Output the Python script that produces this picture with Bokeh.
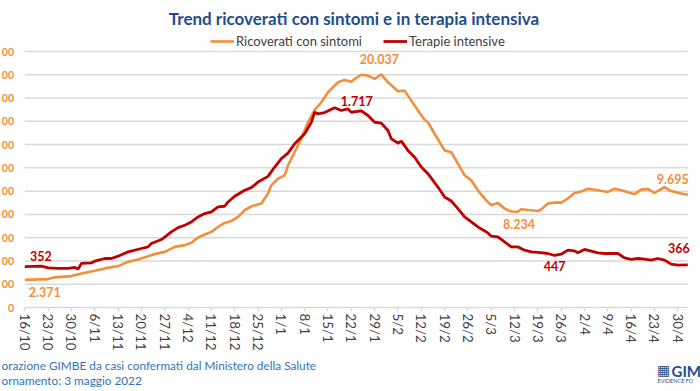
from bokeh.plotting import figure
from bokeh.models import (Range1d, LinearAxis, FixedTicker, Grid, Label,
                          Legend, LegendItem)
from bokeh.embed import file_html
from bokeh.resources import INLINE

# ---------------- data (day 0 = 16/10/2021) ----------------
tick_days = list(range(0, 197, 7))
tick_labels = ["16/10", "23/10", "30/10", "6/11", "13/11", "20/11", "27/11",
               "4/12", "11/12", "18/12", "25/12", "1/1", "8/1", "15/1", "22/1",
               "29/1", "5/2", "12/2", "19/2", "26/2", "5/3", "12/3", "19/3",
               "26/3", "2/4", "9/4", "16/4", "23/4", "30/4"]

# left-axis ticks; only the last digits of the labels are visible in the reference
y_ticks = list(range(0, 22001, 2000))
y_tick_labels = ["0", "00", "00", "00", "00", "00", "00",
                 "00", "00", "00", "00", "00"]

ric_days = [0, 7, 9, 14, 17, 21, 24, 28, 31, 34, 37, 39, 42, 45, 48, 50, 52, 54,
            56, 58, 60, 62, 64, 66, 68, 71, 73, 74, 76, 78, 79, 81, 83, 85, 87,
            89, 91, 94, 96, 98, 99, 101, 103, 105, 107, 109, 112, 114, 116, 118,
            120, 121, 123, 126, 128, 130, 132, 134, 136, 138, 140, 142, 144, 146,
            148, 149, 151, 154, 155, 157, 159, 161, 163, 165, 167, 169, 172, 175,
            177, 179, 183, 185, 187, 189, 192, 194, 197, 199]
ric_vals = [2371, 2440, 2590, 2700, 2930, 3150, 3360, 3560, 3920, 4130, 4410,
            4590, 4780, 5210, 5360, 5560, 6020, 6270, 6500, 6920, 7270, 7440,
            7790, 8360, 8700, 8930, 9790, 10500, 11070, 11360, 12210, 13360,
            14500, 15920, 16980, 17640, 18500, 19350, 19560, 19410, 19640, 20000,
            19930, 19640, 20037, 19350, 18580, 18640, 17780, 16930, 16130, 15920,
            14930, 13500, 13350, 12360, 11360, 10930, 10070, 9360, 8790, 8990,
            8500, 8250, 8234, 8450, 8380, 8290, 8420, 8930, 9010, 9010, 9360,
            9840, 9960, 10210, 10070, 9930, 10210, 10070, 9730, 10130, 10190,
            9840, 10350, 10010, 9790, 9695]

ti_days = [0, 5, 7, 10, 13, 15, 16, 17, 20, 21, 24, 26, 28, 31, 35, 37, 38, 41,
           44, 46, 48, 50, 52, 54, 56, 58, 60, 61, 63, 66, 68, 70, 73, 75, 77,
           79, 81, 84, 86, 87, 88, 90, 93, 95, 97, 98, 101, 103, 105, 107, 109,
           110, 112, 113, 115, 117, 119, 121, 124, 126, 128, 130, 132, 134, 136,
           139, 140, 142, 144, 146, 148, 150, 152, 154, 157, 159, 161, 163, 165,
           166, 168, 170, 172, 174, 176, 178, 180, 182, 184, 186, 188, 190, 192,
           194, 196, 199]
ti_vals = [352, 356, 341, 336, 336, 344, 330, 379, 384, 398, 421, 421, 441, 478,
           507, 521, 550, 584, 650, 687, 707, 735, 778, 807, 821, 864, 870, 907,
           956, 1007, 1030, 1078, 1127, 1207, 1279, 1327, 1407, 1493, 1592, 1678,
           1664, 1675, 1717, 1693, 1707, 1678, 1690, 1650, 1592, 1584, 1521, 1450,
           1412, 1430, 1350, 1292, 1207, 1150, 1035, 950, 915, 850, 778, 735, 692,
           641, 613, 607, 564, 521, 521, 493, 478, 473, 464, 447, 458, 493, 487,
           470, 499, 484, 470, 464, 464, 464, 427, 413, 421, 416, 407, 421, 407,
           373, 364, 366]

# data labels: text, day, value, series, pixel offsets
ann_text = ["2.371", "352", "20.037", "1.717", "8.234", "447", "9.695", "366"]
ann_day = [0, 0, 107, 93, 148, 159, 199, 199]
ann_val = [2371, 352, 20037, 1717, 8234, 447, 9695, 366]
ann_series = ["ric", "ti", "ric", "ti", "ric", "ti", "ric", "ti"]
ann_dx = [20, 16, -2, 22, 1, 0, -15, -9]
ann_dy = [-12, 11, 15, 7, -12, -11, 16, 17]

# ---------------- layout constants (pixels) ----------------
W, H = 700, 391
X_DAY0 = 24.3          # pixel x of first day
PX_PER_DAY = 3.3317
Y_ZERO = 307.0         # pixel y (from top) of value 0
PX_PER_UNIT = 256.0 / 22000.0
X_LAST = 199

x_lo = -X_DAY0 / PX_PER_DAY
x_hi = (W - X_DAY0) / PX_PER_DAY
y_lo = -(H - Y_ZERO) / PX_PER_UNIT
y_hi = Y_ZERO / PX_PER_UNIT

ORANGE = "#F28E3C"
RED = "#C00000"
FONT = "Lato"
BLUE = "#1F4E8C"

p = figure(width=W, height=H, output_backend="svg", toolbar_location=None,
           x_range=Range1d(x_lo, x_hi), y_range=Range1d(y_lo, y_hi),
           x_axis_location=None, y_axis_location=None, min_border=0)
p.extra_y_ranges = {"ti": Range1d(y_lo / 10.0, y_hi / 10.0)}
p.center = [c for c in p.center if not isinstance(c, Grid)]
p.outline_line_color = None
p.background_fill_color = "white"
p.border_fill_color = "white"

# horizontal gridlines over the plotting span
gy = y_ticks[1:]
p.segment(x0=[0] * len(gy), y0=gy, x1=[X_LAST] * len(gy), y1=gy,
          line_color="#D9D9D9", line_width=1.5)

xaxis = LinearAxis(fixed_location=0, bounds=(0, X_LAST),
                   ticker=FixedTicker(ticks=tick_days),
                   major_label_overrides={d: l for d, l in zip(tick_days, tick_labels)},
                   major_label_orientation="vertical",
                   axis_line_color="#D9D9D9", axis_line_width=1.5,
                   major_tick_line_color="#D9D9D9", major_tick_line_width=1.5,
                   major_tick_in=0, major_tick_out=4, minor_tick_out=0, minor_tick_in=0,
                   major_label_standoff=2,
                   major_label_text_font=FONT, major_label_text_font_size="13.4px",
                   major_label_text_color="#404040")
p.add_layout(xaxis, "below")

yaxis = LinearAxis(fixed_location=(15.5 - X_DAY0) / PX_PER_DAY,
                   ticker=FixedTicker(ticks=y_ticks),
                   major_label_overrides={v: l for v, l in zip(y_ticks, y_tick_labels)},
                   axis_line_color=None, major_tick_line_color=None,
                   minor_tick_line_color=None, major_tick_in=0, major_tick_out=0,
                   minor_tick_in=0, minor_tick_out=0, major_label_standoff=2,
                   major_label_text_font=FONT, major_label_text_font_style="bold",
                   major_label_text_font_size="10.5px", major_label_text_color=ORANGE)
p.add_layout(yaxis, "left")

r1 = p.line(ric_days, ric_vals, line_color=ORANGE, line_width=2.6)
r2 = p.line(ti_days, ti_vals, line_color=RED, line_width=2.8, y_range_name="ti")

legend = Legend(items=[LegendItem(label="Ricoverati con sintomi", renderers=[r1]),
                       LegendItem(label="Terapie intensive", renderers=[r2])],
                orientation="horizontal", location=(210, H - 48.7),
                border_line_color=None, background_fill_alpha=0,
                padding=0, margin=0, spacing=21, label_standoff=2,
                glyph_width=24, glyph_height=14, label_height=14,
                label_text_font=FONT, label_text_font_size="13px",
                label_text_color="#404040")
p.add_layout(legend)

p.add_layout(Label(x=353.5, y=H - 18, x_units="screen", y_units="screen",
                   text="Trend ricoverati con sintomi e in terapia intensiva",
                   text_align="center", text_baseline="middle",
                   text_font=FONT, text_font_style="bold", text_font_size="17px",
                   text_color=BLUE))

for t, d, v, s, dx, dy in zip(ann_text, ann_day, ann_val, ann_series, ann_dx, ann_dy):
    kw = {"y_range_name": "ti"} if s == "ti" else {}
    p.add_layout(Label(x=d, y=v, x_offset=dx, y_offset=dy, text=t,
                       text_align="center", text_baseline="middle",
                       text_font=FONT, text_font_style="bold", text_font_size="12.5px",
                       text_color=ORANGE if s == "ric" else RED, **kw))

FOOT = "#2F75B5"
p.add_layout(Label(x=1, y=H - 364.5, x_units="screen", y_units="screen",
                   text="orazione GIMBE da casi confermati dal Ministero della Salute",
                   text_align="left", text_baseline="alphabetic",
                   text_font=FONT, text_font_size="11.8px", text_color=FOOT))
p.add_layout(Label(x=1, y=H - 380, x_units="screen", y_units="screen",
                   text="ornamento: 3 maggio 2022",
                   text_align="left", text_baseline="alphabetic",
                   text_font=FONT, text_font_size="11.8px", text_color=FOOT))

# logo
p.add_layout(Label(x=663, y=H - 369, x_units="screen", y_units="screen", text="\u25A6",
                   text_align="center", text_baseline="alphabetic",
                   text_font="DejaVu Sans", text_font_size="14px", text_color=BLUE))
p.add_layout(Label(x=671, y=H - 370, x_units="screen", y_units="screen", text="GIM",
                   text_align="left", text_baseline="alphabetic",
                   text_font=FONT, text_font_style="bold", text_font_size="15px",
                   text_color=BLUE))
p.add_layout(Label(x=657, y=H - 380, x_units="screen", y_units="screen", text="EVIDENCE FO",
                   text_align="left", text_baseline="alphabetic",
                   text_font=FONT, text_font_size="5.5px", text_color=BLUE))

open("out.html", "w").write(file_html(p, INLINE))
